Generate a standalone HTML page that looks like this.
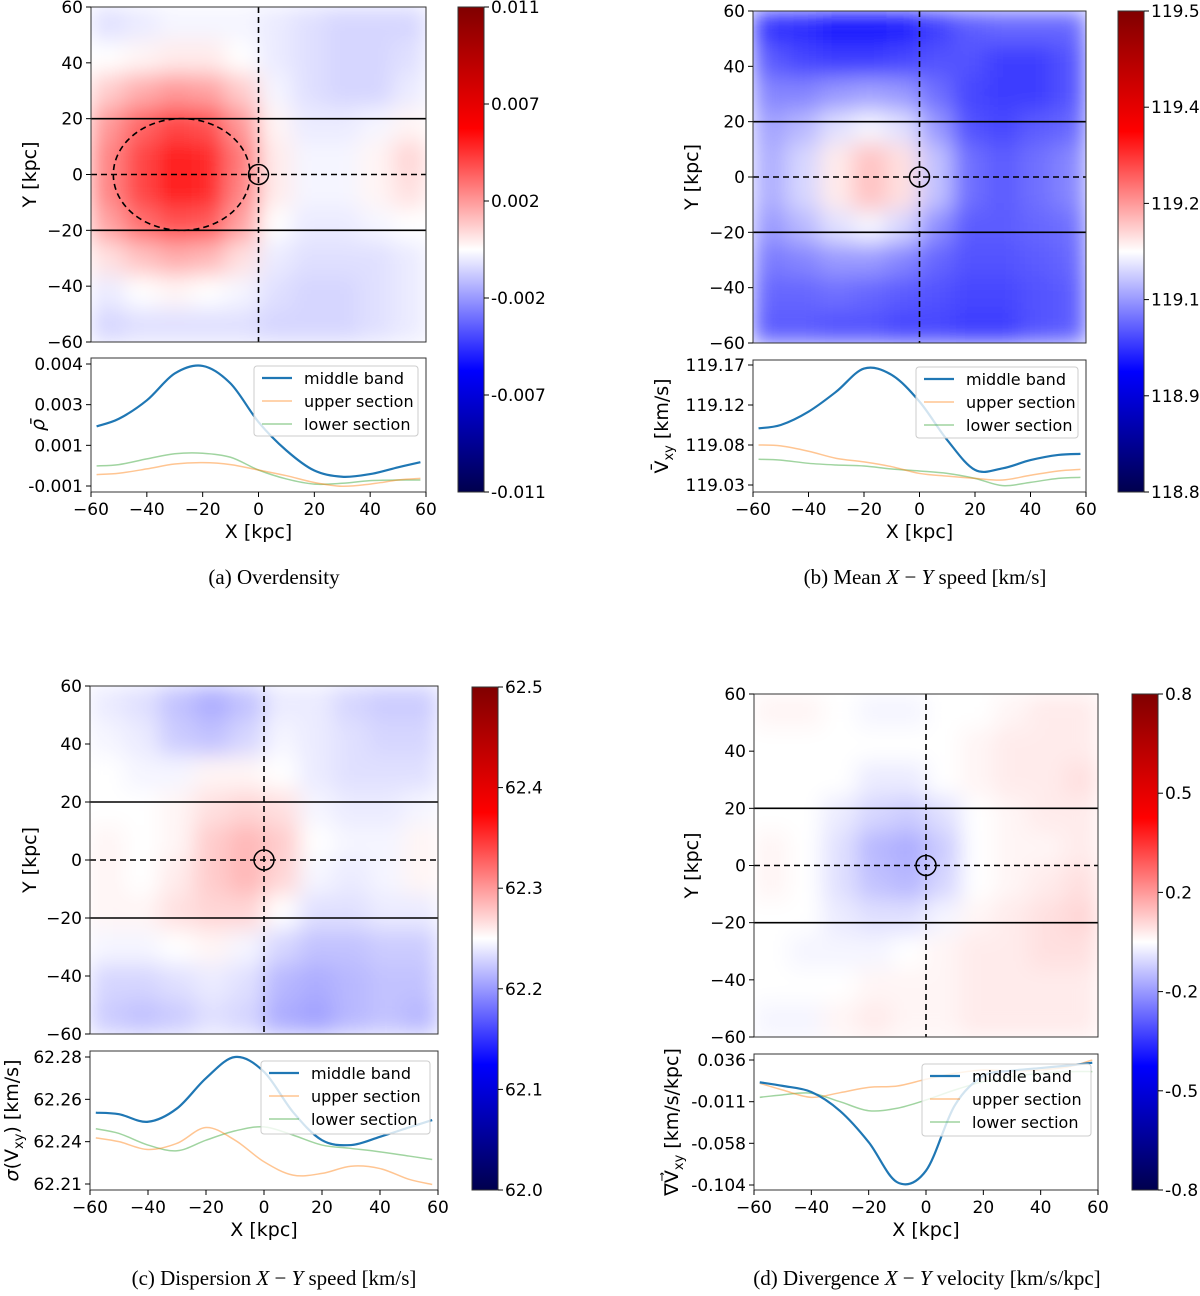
<!DOCTYPE html>
<html><head><meta charset="utf-8"><style>
html,body{margin:0;padding:0;background:#fff}
svg text{font-family:"DejaVu Sans","Liberation Sans",sans-serif;fill:#000}
.cap{font-family:"Liberation Serif",serif;font-size:21px}
</style></head><body>
<svg id="fig" xmlns="http://www.w3.org/2000/svg" width="1200" height="1291" viewBox="0 0 1200 1291">
<defs>
<linearGradient id="seis" x1="0" y1="1" x2="0" y2="0">
<stop offset="0" stop-color="#00004d"/><stop offset="0.25" stop-color="#0000ff"/><stop offset="0.5" stop-color="#ffffff"/><stop offset="0.75" stop-color="#ff0000"/><stop offset="1" stop-color="#800000"/>
</linearGradient>
<filter id="blur" x="0" y="0" width="1" height="1"><feGaussianBlur stdDeviation="11" edgeMode="duplicate"/></filter>
</defs>
<text class="cap" x="274" y="584" text-anchor="middle">(a) Overdensity</text>
<text class="cap" x="925" y="584" text-anchor="middle">(b) Mean <tspan font-style="italic">X</tspan> − <tspan font-style="italic">Y</tspan> speed [km/s]</text>
<text class="cap" x="274" y="1285" text-anchor="middle">(c) Dispersion <tspan font-style="italic">X</tspan> − <tspan font-style="italic">Y</tspan> speed [km/s]</text>
<text class="cap" x="927" y="1285" text-anchor="middle">(d) Divergence <tspan font-style="italic">X</tspan> − <tspan font-style="italic">Y</tspan> velocity [km/s/kpc]</text>
</svg>
<script>
// ---------- data ----------
const xSamples = [-58,-50,-40,-30,-20,-10,0,10,20,30,40,50,58];
const heatTicks = [-60,-40,-20,0,20,40,60];
const seriesNames = ["middle band","upper section","lower section"];

// panel a: overdensity
const aLevels = [
[.47,.48,.49,.49,.49,.48,.47,.46,.46,.46],
[.50,.51,.52,.52,.50,.48,.47,.46,.46,.47],
[.55,.58,.60,.59,.55,.49,.47,.46,.46,.48],
[.60,.65,.68,.67,.60,.51,.48,.48,.49,.51],
[.62,.68,.72,.71,.63,.52,.49,.49,.51,.54],
[.62,.68,.72,.71,.62,.52,.49,.49,.51,.53],
[.59,.64,.67,.66,.59,.50,.48,.48,.49,.50],
[.53,.56,.58,.57,.53,.48,.47,.47,.47,.48],
[.48,.50,.51,.50,.49,.47,.46,.46,.47,.48],
[.46,.47,.47,.47,.47,.46,.46,.46,.47,.48]];
const aMiddle = [0.0017,0.00198,0.00266,0.00365,0.00393,0.00328,0.00186,0.00081,0.00007,-0.00016,-0.00006,0.00019,0.00038];
const aUpper = [-0.00008,-0.00003,0.00013,0.00031,0.00036,0.00029,0.00009,-0.00012,-0.00037,-0.00051,-0.00043,-0.00028,-0.00022];
const aLower = [0.00024,0.00029,0.0005,0.00069,0.00071,0.00056,0.00009,-0.00024,-0.00043,-0.0004,-0.0003,-0.00028,-0.00028];
const aLineTicks = [0.004,0.0025,0.001,-0.0005];
const aLineTickLabels = ["0.004","0.003","0.001","-0.001"];
const aCbarLabels = ["0.011","0.007","0.002","-0.002","-0.007","-0.011"];

// panel b: mean speed
const bLevels = [
[.30,.29,.27,.27,.28,.31,.34,.35,.35,.35],
[.34,.32,.31,.31,.32,.33,.33,.31,.31,.33],
[.38,.38,.40,.41,.40,.36,.32,.31,.31,.33],
[.41,.43,.47,.49,.47,.40,.33,.32,.34,.35],
[.42,.46,.52,.56,.53,.44,.36,.34,.36,.38],
[.42,.46,.52,.56,.53,.44,.36,.34,.36,.38],
[.40,.43,.47,.49,.46,.39,.34,.34,.35,.36],
[.37,.38,.40,.40,.38,.35,.33,.33,.34,.35],
[.35,.35,.36,.35,.34,.33,.32,.32,.33,.34],
[.34,.34,.33,.33,.32,.32,.31,.31,.33,.34]];
const bMiddle = [119.0938,119.0975,119.1125,119.135,119.161,119.1538,119.1238,119.0806,119.047,119.0488,119.058,119.0638,119.065];
const bUpper = [119.075,119.074,119.068,119.06,119.056,119.0506,119.043,119.040,119.0375,119.0356,119.041,119.0458,119.0476];
const bLower = [119.0589,119.058,119.0544,119.0525,119.0514,119.048,119.0458,119.0431,119.0375,119.0293,119.033,119.0375,119.0386];
const bLineTicks = [119.165,119.12,119.075,119.03];
const bLineTickLabels = ["119.17","119.12","119.08","119.03"];
const bCbarLabels = ["119.5","119.4","119.2","119.1","118.9","118.8"];

// panel c: dispersion
const cLevels = [
[.48,.47,.44,.42,.44,.48,.48,.46,.45,.45],
[.49,.48,.45,.44,.46,.49,.48,.47,.46,.46],
[.50,.49,.49,.51,.51,.50,.48,.47,.47,.47],
[.50,.50,.51,.53,.54,.53,.49,.48,.48,.49],
[.51,.50,.51,.55,.57,.55,.50,.49,.49,.51],
[.51,.50,.52,.55,.57,.54,.49,.48,.49,.51],
[.51,.51,.53,.54,.54,.50,.47,.47,.48,.48],
[.49,.49,.50,.51,.49,.46,.44,.44,.45,.45],
[.46,.46,.47,.48,.47,.43,.42,.43,.44,.44],
[.45,.44,.45,.47,.46,.42,.41,.43,.44,.43]];
const cMiddle = [62.2487,62.248,62.2444,62.2507,62.265,62.275,62.268,62.249,62.2357,62.2334,62.2373,62.2417,62.2452];
const cUpper = [62.2368,62.235,62.2313,62.2342,62.2417,62.2357,62.2255,62.2192,62.22,62.2234,62.2223,62.2172,62.2148];
const cLower = [62.2411,62.2389,62.2334,62.2307,62.2357,62.2401,62.242,62.2381,62.2334,62.2318,62.2302,62.2282,62.2266];
const cLineTicks = [62.275,62.255,62.235,62.215];
const cLineTickLabels = ["62.28","62.26","62.24","62.21"];
const cCbarLabels = ["62.5","62.4","62.3","62.2","62.1","62.0"];

// panel d: divergence
const dLevels = [
[.51,.51,.50,.49,.49,.50,.50,.51,.52,.52],
[.50,.50,.50,.50,.50,.50,.51,.52,.52,.52],
[.50,.50,.50,.48,.48,.50,.51,.52,.52,.53],
[.50,.50,.48,.46,.45,.47,.50,.51,.52,.52],
[.51,.50,.47,.43,.42,.45,.50,.51,.51,.52],
[.51,.50,.47,.44,.43,.46,.50,.51,.52,.53],
[.50,.50,.48,.47,.47,.49,.51,.52,.53,.54],
[.50,.49,.49,.49,.50,.51,.52,.52,.53,.53],
[.50,.50,.50,.51,.51,.51,.52,.52,.52,.52],
[.49,.49,.51,.52,.51,.51,.52,.52,.52,.52]];
const dMiddle = [0.011,0.007,0.0002,-0.021,-0.056,-0.101,-0.088,-0.015,0.018,0.024,0.027,0.030,0.033];
const dUpper = [0.0099,0.0024,-0.0058,-0.0006,0.0054,0.0069,0.0144,0.021,0.0248,0.0237,0.0248,0.0285,0.036];
const dLower = [-0.0058,-0.003,-0.0012,-0.0107,-0.0208,-0.018,-0.0088,0.0024,0.0117,0.0174,0.021,0.023,0.023];
const dLineTicks = [0.036,-0.0107,-0.0573,-0.104];
const dLineTickLabels = ["0.036","-0.011","-0.058","-0.104"];
const dCbarLabels = ["0.8","0.5","0.2","-0.2","-0.5","-0.8"];

// ---------- drawing ----------
const NS = "http://www.w3.org/2000/svg";
const svg = document.getElementById("fig");
function mk(tag, parent, attrs){ const e=document.createElementNS(NS,tag); for(const k in attrs) e.setAttribute(k,attrs[k]); parent.appendChild(e); return e; }
function lerp(a,b,t){return a+(b-a)*t;}
function seismic(t){
  t=Math.max(0,Math.min(1,t));
  const st=[[0,[0,0,77]],[0.25,[0,0,255]],[0.5,[255,255,255]],[0.75,[255,0,0]],[1,[128,0,0]]];
  for(let i=0;i<4;i++){ if(t<=st[i+1][0]){ const f=(t-st[i][0])/(st[i+1][0]-st[i][0]); const c=st[i][1].map((v,j)=>Math.round(lerp(v,st[i+1][1][j],f))); return `rgb(${c[0]},${c[1]},${c[2]})`; } }
  return "rgb(128,0,0)";
}
function smoothPath(pts){
  let d=`M${pts[0][0]},${pts[0][1]}`;
  for(let i=0;i<pts.length-1;i++){
    const p0=pts[Math.max(0,i-1)],p1=pts[i],p2=pts[i+1],p3=pts[Math.min(pts.length-1,i+2)];
    const c1=[p1[0]+(p2[0]-p0[0])/6,p1[1]+(p2[1]-p0[1])/6], c2=[p2[0]-(p3[0]-p1[0])/6,p2[1]-(p3[1]-p1[1])/6];
    d+=` C${c1[0]},${c1[1]} ${c2[0]},${c2[1]} ${p2[0]},${p2[1]}`;
  }
  return d;
}
function txt(parent, x, y, s, size, anchor){
  const t=mk("text",parent,{x:x,y:y,"font-size":size,"text-anchor":anchor||"middle"}); t.textContent=s; return t;
}

function panel(id, P, levels, series, lineTicks, lineTickLabels, cbarLabels, yLabelBuilder){
  const g=mk("g",svg,{});
  
  
  const H=P.heat;
  const hx=v=>H.x0+(v+60)/120*(H.x1-H.x0);
  const hy=v=>H.y0+(60-v)/120*(H.y1-H.y0);
  // heatmap
  const clip=mk("clipPath",svg.querySelector("defs"),{id:"clip"+id});
  mk("rect",clip,{x:H.x0,y:H.y0,width:H.x1-H.x0,height:H.y1-H.y0});
  const hc=mk("g",g,{"clip-path":`url(#clip${id})`});
  
  
  const hb=mk("g",hc,{filter:"url(#blur)"});
  const nr=levels.length, nc=levels[0].length;
  const cw=(H.x1-H.x0)/nc, ch=(H.y1-H.y0)/nr;
  levels.forEach((row,r)=>row.forEach((v,c)=>{
    const cell=mk("rect",hb,{x:H.x0+c*cw,y:H.y0+r*ch,width:cw+0.6,height:ch+0.6,fill:seismic(v)});
    
    
  }));
  // overlays
  const ov=mk("g",g,{stroke:"#000",fill:"none"});
  
  
  mk("line",ov,{x1:H.x0,x2:H.x1,y1:hy(20),y2:hy(20),"stroke-width":1.6});
  mk("line",ov,{x1:H.x0,x2:H.x1,y1:hy(-20),y2:hy(-20),"stroke-width":1.6});
  mk("line",ov,{x1:H.x0,x2:H.x1,y1:hy(0),y2:hy(0),"stroke-width":1.6,"stroke-dasharray":"6,4"});
  mk("line",ov,{x1:hx(0),x2:hx(0),y1:H.y0,y2:H.y1,"stroke-width":1.6,"stroke-dasharray":"6,4"});
  if(P.ellipse){ mk("ellipse",ov,{cx:hx(P.ellipse[0]),cy:hy(0),rx:P.ellipse[1]/120*(H.x1-H.x0),ry:20/120*(H.y1-H.y0),"stroke-width":1.6,"stroke-dasharray":"6,4"}); }
  const sun=mk("circle",ov,{cx:hx(0),cy:hy(0),r:10,"stroke-width":1.5});
  
  
  mk("rect",g,{x:H.x0,y:H.y0,width:H.x1-H.x0,height:H.y1-H.y0,fill:"none",stroke:"#333","stroke-width":1});
  heatTicks.forEach(v=>{
    mk("line",g,{x1:H.x0-5,x2:H.x0,y1:hy(v),y2:hy(v),stroke:"#000"});
    txt(g,H.x0-8,hy(v)+6,v<0?"\u2212"+(-v):String(v),17,"end");
  });
  const yl=txt(g,0,0,"Y [kpc]",19,"middle");
  yl.setAttribute("transform",`translate(${P.hyLabelX},${(H.y0+H.y1)/2}) rotate(-90)`);
  
  
  // line plot
  const L=P.line;
  const lx=v=>H.x0+(v+60)/120*(H.x1-H.x0);
  const t0=lineTicks[0], t3=lineTicks[lineTicks.length-1];
  const ly=v=>L.t0+(t0-v)/(t0-t3)*(L.t3-L.t0);
  mk("rect",g,{x:H.x0,y:L.y0,width:H.x1-H.x0,height:L.y1-L.y0,fill:"#fff",stroke:"#333","stroke-width":1});
  const lc=mk("clipPath",svg.querySelector("defs"),{id:"lclip"+id});
  mk("rect",lc,{x:H.x0,y:L.y0,width:H.x1-H.x0,height:L.y1-L.y0});
  const lg=mk("g",g,{"clip-path":`url(#lclip${id})`,fill:"none"});
  const styles=[{stroke:"#1f77b4","stroke-width":2.2,opacity:1},{stroke:"#ff7f0e","stroke-width":1.5,opacity:0.45},{stroke:"#2ca02c","stroke-width":1.5,opacity:0.45}];
  // draw lower, upper, then middle on top
  [2,1,0].forEach(i=>{
    const pts=xSamples.map((x,k)=>[lx(x),ly(series[i][k])]);
    const p=mk("path",lg,Object.assign({d:smoothPath(pts)},styles[i]));
    
    
  });
  lineTicks.forEach((v,i)=>{
    mk("line",g,{x1:H.x0-5,x2:H.x0,y1:ly(v),y2:ly(v),stroke:"#000"});
    txt(g,H.x0-8,ly(v)+6,lineTickLabels[i],17,"end");
  });
  heatTicks.forEach(v=>{
    mk("line",g,{x1:lx(v),x2:lx(v),y1:L.y1,y2:L.y1+5,stroke:"#000"});
    txt(g,lx(v),L.y1+23,v<0?"\u2212"+(-v):String(v),17,"middle");
  });
  const xl=txt(g,(H.x0+H.x1)/2,L.y1+46,"X [kpc]",19,"middle");
  
  
  yLabelBuilder(g,P.lyLabelX,(L.y0+L.y1)/2);
  // legend
  const Lg=P.legend;
  const leg=mk("g",g,{});
  
  
  mk("rect",leg,{x:Lg.x,y:Lg.y,width:Lg.w,height:Lg.h,rx:3,fill:"#fff","fill-opacity":0.8,stroke:"#ccc"});
  seriesNames.forEach((n,i)=>{
    const yy=Lg.y+12+i*23;
    mk("line",leg,Object.assign({x1:Lg.x+8,x2:Lg.x+38,y1:yy,y2:yy},styles[i]));
    const e=txt(leg,Lg.x+50,yy+6,n,16,"start");
    
    
  });
  // colorbar
  const C=P.cbar;
  const cb=mk("rect",g,{x:C.x,y:C.y0,width:C.w,height:C.y1-C.y0,fill:"url(#seis)",stroke:"#333"});
  
  
  cbarLabels.forEach((s,i)=>{
    const yy=C.y0+i/(cbarLabels.length-1)*(C.y1-C.y0);
    mk("line",g,{x1:C.x+C.w,x2:C.x+C.w+5,y1:yy,y2:yy,stroke:"#000"});
    txt(g,C.x+C.w+7,yy+6,s,17,"start");
  });
}
function rotLabel(g,x,y,build){
  const t=mk("text",g,{"font-size":19,"text-anchor":"middle",transform:`translate(${x},${y}) rotate(-90)`});
  
  
  build(t);
}
function ts(t,s,attrs){const e=mk("tspan",t,attrs||{});e.textContent=s;return e;}

panel("a",{heat:{x0:91,x1:426,y0:7,y1:342},line:{y0:358,y1:492,t0:364,t3:486},cbar:{x:458,w:26,y0:7,y1:492},legend:{x:254,y:366,w:164,h:70},ellipse:[-27.5,24.5],hyLabelX:36,lyLabelX:44},
  aLevels,[aMiddle,aUpper,aLower],aLineTicks,aLineTickLabels,aCbarLabels,
  (g,x,y)=>rotLabel(g,x,y,t=>{ts(t,"\u03C1\u0304",{"font-style":"italic"});}));
panel("b",{heat:{x0:753,x1:1086,y0:11,y1:343},line:{y0:360,y1:492,t0:365,t3:485},cbar:{x:1118,w:26,y0:11,y1:492},legend:{x:916,y:367,w:162,h:71},hyLabelX:698,lyLabelX:668},
  bLevels,[bMiddle,bUpper,bLower],bLineTicks,bLineTickLabels,bCbarLabels,
  (g,x,y)=>rotLabel(g,x,y,t=>{ts(t,"V\u0304");ts(t,"xy",{"font-size":13,dy:5});ts(t," [km/s]",{dy:-5});}));
panel("c",{heat:{x0:90,x1:438,y0:686,y1:1034},line:{y0:1051,y1:1190,t0:1057,t3:1184},cbar:{x:472,w:26,y0:687,y1:1190},legend:{x:261,y:1061,w:169,h:73},hyLabelX:36,lyLabelX:18},
  cLevels,[cMiddle,cUpper,cLower],cLineTicks,cLineTickLabels,cCbarLabels,
  (g,x,y)=>rotLabel(g,x,y,t=>{ts(t,"\u03C3",{"font-style":"italic"});ts(t,"(V");ts(t,"xy",{"font-size":13,dy:5});ts(t,") [km/s]",{dy:-5});}));
panel("d",{heat:{x0:754,x1:1098,y0:694,y1:1037},line:{y0:1054,y1:1190,t0:1060,t3:1185},cbar:{x:1132,w:26,y0:694,y1:1190},legend:{x:922,y:1064,w:169,h:72},hyLabelX:698,lyLabelX:678},
  dLevels,[dMiddle,dUpper,dLower],dLineTicks,dLineTickLabels,dCbarLabels,
  (g,x,y)=>rotLabel(g,x,y,t=>{ts(t,"\u2207V\u20D7");ts(t,"xy",{"font-size":13,dy:5});ts(t," [km/s/kpc]",{dy:-5});}));
</script>
</body></html>
